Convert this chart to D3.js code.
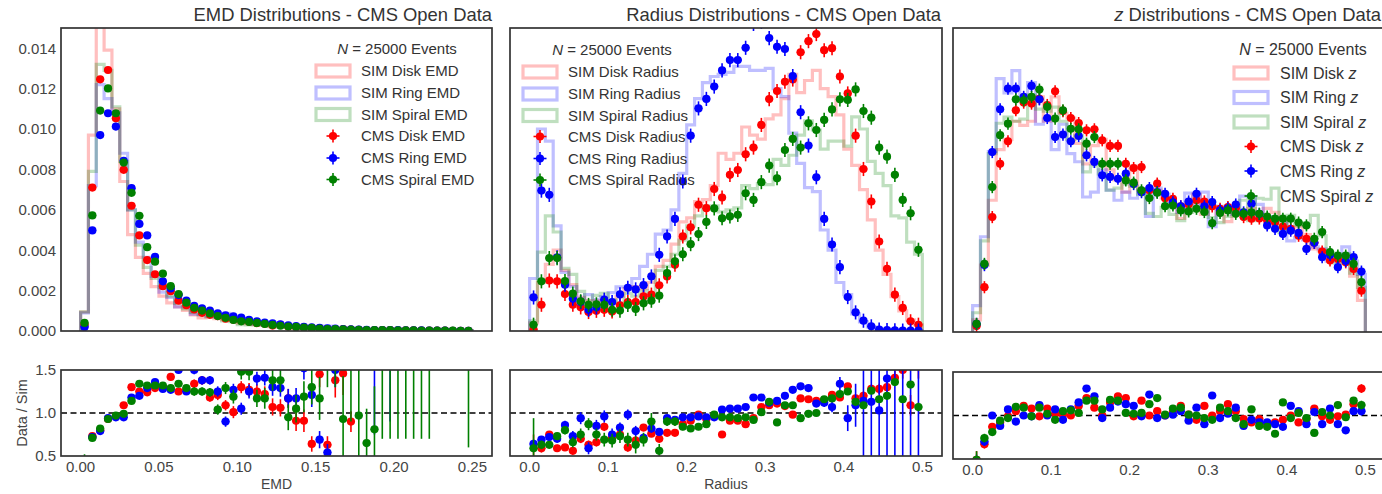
<!DOCTYPE html>
<html><head><meta charset="utf-8">
<script src="https://cdn.jsdelivr.net/npm/d3@7"></script>
<style>body{margin:0;background:#fff;} svg{display:block;}</style>
</head><body><svg id="c" width="1382" height="494"></svg>
<script>
// ---------------- DATA (all heights in units of 1e-3) ----------------
const nBins = 50;
const emdBinWidth = 0.005;
const radiusBinWidth = 0.01;
const zBinWidth = 0.01;
const emdTicks = [0, 0.05, 0.10, 0.15, 0.20, 0.25];
const rzTicks = [0, 0.1, 0.2, 0.3, 0.4, 0.5];
const topYTicks = [0, 2, 4, 6, 8, 10, 12, 14];   // x 1e-3
const ratioYTicks = [0.5, 1.0, 1.5];
const seriesNames = ['Disk', 'Ring', 'Spiral'];

// EMD
const simDiskEMD   = [0.94,9.7,15.6,13.9,11.0,7.4,4.77,3.64,2.85,2.2,1.73,1.39,1.19,1.02,0.80,0.65,0.68,0.61,0.56,0.55,0.39,0.36,0.31,0.30,0.25,0.29,0.19,0.22,0.2,0.22,0.09,0.16,0.07,0.06,0.08,0.05,0.045,0.04,0.035,0.03,0.03,0.025,0.02,0.02,0.015,0.015,0.01,0.01,0.01,0.01];
const simRingEMD   = [0.9,7.2,12.2,11.5,10.8,8.8,6.0,4.4,3.65,2.7,1.92,1.66,1.19,1.2,0.83,0.81,0.73,0.70,0.87,0.57,0.63,0.44,0.34,0.30,0.29,0.26,0.24,0.2,0.13,0.15,0.22,0.24,0.08,0.06,0.05,0.04,0.035,0.03,0.03,0.025,0.02,0.02,0.015,0.015,0.01,0.01,0.01,0.01,0.01,0.01];
const simSpiralEMD = [0.95,7.9,13.2,12.9,11.1,8.4,6.0,4.25,3.15,2.6,2.15,1.72,1.37,1.09,0.92,0.81,0.70,0.71,0.50,0.46,0.32,0.30,0.34,0.30,0.22,0.19,0.23,0.19,0.14,0.12,0.1,0.06,0.05,0.09,0.04,0.06,0.08,0.06,0.02,0.02,0.015,0.015,0.015,0.01,0.01,0.01,0.01,0.01,0.01,0.005];
const cmsDiskEMD   = [0.3,7.10,12.46,12.92,10.53,7.98,6.20,4.73,3.51,2.81,2.22,1.97,1.50,1.28,1.07,0.90,0.80,0.74,0.61,0.56,0.51,0.46,0.39,0.36,0.27,0.31,0.22,0.2,0.18,0.14,0.13,0.1,0.1,0.09,0.07,0.06,0.05,0.05,0.04,0.04,0.03,0.03,0.03,0.02,0.02,0.02,0.02,0.01,0.01,0.01];
const cmsRingEMD   = [0.2,4.98,9.70,10.78,10.12,8.42,7.07,5.3,4.73,3.67,2.46,2.11,1.78,1.50,1.25,1.12,1.01,0.87,0.78,0.72,0.66,0.55,0.48,0.42,0.38,0.33,0.28,0.24,0.2,0.18,0.15,0.13,0.12,0.1,0.08,0.07,0.06,0.05,0.05,0.04,0.04,0.03,0.03,0.03,0.02,0.02,0.02,0.01,0.01,0.01];
const cmsSpiralEMD = [0.4,5.72,10.91,12.01,10.78,8.34,6.84,5.70,4.15,3.43,2.84,2.22,1.83,1.40,1.15,1.01,0.87,0.74,0.65,0.55,0.48,0.45,0.40,0.35,0.30,0.26,0.22,0.20,0.17,0.15,0.12,0.10,0.09,0.08,0.07,0.06,0.05,0.05,0.04,0.04,0.03,0.03,0.03,0.02,0.02,0.02,0.02,0.02,0.01,0.01];
const ratioDiskEMD   = [0.35,0.73,0.80,0.93,0.96,1.09,1.30,1.25,1.24,1.29,1.29,1.42,1.25,1.27,1.34,1.38,1.18,1.21,1.09,1.01,1.30,1.27,1.25,1.22,1.07,1.06,1.17,0.91,0.91,0.64,1.45,0.63,1.38,1.46,0.90,null,null,null,null,null,null,null,null,null,null,null,null,null,null,null];
const ratioRingEMD   = [null,0.72,0.79,0.94,0.95,0.95,1.18,1.20,1.29,1.36,1.28,1.27,1.50,1.25,1.50,1.38,1.38,1.25,0.90,1.27,1.05,1.25,1.40,1.41,1.30,1.29,1.17,1.17,1.52,1.21,0.69,0.54,1.50,null,null,null,null,1.9,null,2.0,null,null,null,null,null,null,null,null,null,null];
const ratioSpiralEMD = [0.42,0.71,0.82,0.93,0.97,0.99,1.14,1.34,1.32,1.32,1.32,1.29,1.34,1.29,1.25,1.25,1.24,1.04,1.29,1.19,1.48,1.48,1.17,1.17,1.38,1.38,0.95,1.05,1.19,1.30,1.17,1.6,1.9,0.93,1.8,0.97,0.65,0.81,2.0,2.0,2.0,2.0,2.0,2.0,2.0,null,null,null,null,2.0];
const rerrDiskEMD   = [0.1,0.02,0.02,0.02,0.02,0.02,0.03,0.03,0.03,0.03,0.03,0.04,0.04,0.04,0.05,0.05,0.05,0.06,0.06,0.07,0.07,0.08,0.08,0.09,0.1,0.1,0.11,0.12,0.13,0.09,0.15,0.1,0.2,0.25,0.12,0,0,0,0,0,0,0,0,0,0,0,0,0,0,0];
const rerrRingEMD   = [0,0.02,0.02,0.02,0.02,0.02,0.03,0.03,0.03,0.03,0.03,0.04,0.04,0.04,0.05,0.05,0.05,0.06,0.06,0.07,0.07,0.08,0.08,0.09,0.1,0.1,0.11,0.12,0.13,0.14,0.1,0.1,0.2,0,0,0,0,1.15,0,1.1,0,0,0,0,0,0,0,0,0,0];
const rerrSpiralEMD = [0.1,0.02,0.02,0.02,0.02,0.02,0.03,0.03,0.03,0.03,0.03,0.04,0.04,0.04,0.05,0.05,0.05,0.06,0.07,0.08,0.09,0.1,0.1,0.12,0.12,0.14,0.15,0.16,0.18,0.2,0.25,0.3,0.6,0.5,0.9,0.8,0.4,0.5,1.3,1.3,1.3,1.3,1.3,1.3,1.3,0,0,0,0,1.4];
const dataErrEMD = 0.15;

// Radius
const simDiskR   = [0.4,2.4,3.3,4.0,3.0,2.3,1.67,1.5,1.5,1.25,1.37,1.7,2.1,2.2,2.1,2.4,3.2,3.5,4.3,5.4,5.6,6.4,6.5,7.2,8.8,8.5,8.8,10.1,9.7,9.5,10.5,10.7,11.5,12.7,11.8,12.4,12.9,12.0,11.6,10.7,9.0,8.2,7.0,5.5,4.0,2.8,1.7,1.0,0.55,0.3];
const simRingR   = [2.6,10.0,9.4,5.2,2.9,2.2,1.6,1.8,1.55,1.7,1.9,2.18,2.18,2.6,3.2,3.8,4.8,5.0,6.0,7.8,10.2,11.5,12.3,12.6,12.7,12.8,13.1,13.1,12.9,12.9,13.0,12.0,11.6,9.8,8.3,7.1,6.9,5.0,4.0,2.4,1.8,0.85,0.45,0.2,0.07,0.03,0.02,0.02,0.01,0.01];
const simSpiralR = [0.5,3.9,5.7,4.9,3.1,2.8,1.96,1.48,1.76,1.87,1.54,1.38,1.87,1.73,1.99,1.67,3.0,3.2,3.8,4.5,5.2,5.7,6.2,6.2,5.9,6.0,6.1,7.2,7.05,7.3,7.25,8.5,8.2,8.7,9.7,10.4,9.95,9.0,9.4,9.4,9.15,10.6,10.0,8.4,7.8,7.2,5.7,5.6,4.4,3.8];
const cmsDiskR   = [0.07,1.30,2.50,2.46,1.83,1.30,1.17,0.94,1.00,1.05,0.97,1.27,1.43,1.43,1.71,1.80,2.26,2.70,3.28,4.68,5.13,6.25,6.08,7.03,6.61,7.73,7.97,8.75,9.08,10.2,11.48,11.88,12.34,12.45,13.8,14.35,14.7,13.9,14.0,12.6,11.76,9.67,8.02,6.41,4.43,3.08,1.80,1.14,0.48,0.31];
const cmsRingR   = [1.66,6.95,6.74,3.65,2.29,1.60,1.43,1.05,1.17,1.55,1.43,1.81,2.14,2.06,2.27,2.70,3.77,4.68,5.55,7.40,9.67,11.02,11.49,12.1,12.9,13.41,13.41,14.02,15.2,15.3,14.5,14.07,13.96,12.62,10.83,9.18,7.61,5.55,4.28,3.16,1.68,0.92,0.51,0.23,0.07,0.04,0.03,0.02,0.02,0.02];
const cmsSpiralR = [0.31,2.46,3.61,3.61,2.47,1.85,1.47,1.29,1.32,1.29,1.05,1.01,1.29,1.09,1.37,1.50,1.75,2.87,3.45,3.8,4.3,4.8,5.4,6.07,5.58,5.67,5.75,6.82,6.49,7.37,8.19,7.56,8.96,9.51,9.08,10.28,9.95,10.45,10.97,11.47,11.44,11.96,10.89,10.56,9.08,8.63,7.73,6.49,5.83,4.02];
const ratioDiskR   = [0.45,0.59,0.75,0.59,0.60,0.56,0.70,0.63,0.66,0.84,0.71,0.75,0.60,0.68,0.83,0.76,0.70,0.77,0.77,0.87,0.91,0.98,0.93,0.97,0.75,0.91,0.91,0.87,0.94,1.07,1.09,1.11,1.08,0.98,1.17,1.16,1.14,1.15,1.21,1.18,1.31,1.17,1.20,1.28,1.28,1.30,1.41,1.5,1.09,1.55];
const ratioRingR   = [0.64,0.69,0.72,0.70,0.86,0.73,0.94,0.59,0.85,0.96,0.75,0.83,0.98,0.79,0.71,0.82,0.78,0.94,0.92,0.95,0.95,0.96,0.95,0.95,1.04,1.05,1.05,1.07,1.18,1.18,1.12,1.14,1.20,1.27,1.31,1.29,1.11,1.12,1.07,1.34,0.94,1.09,1.14,1.13,1.03,1.40,2.0,2.0,2.0,2.0];
const ratioSpiralR = [0.59,0.63,0.63,0.73,0.80,0.66,0.75,0.87,0.75,0.69,0.68,0.73,0.69,0.63,0.69,0.90,0.56,0.90,0.90,0.84,0.82,0.84,0.87,0.98,0.95,0.95,0.94,0.95,0.92,1.01,1.13,0.89,1.09,1.09,0.94,0.99,1.0,1.16,1.17,1.22,1.25,1.13,1.09,1.26,1.16,1.20,1.36,1.16,1.33,1.07];
const rerrDiskR   = [0.3,0.05,0.04,0.04,0.04,0.04,0.05,0.05,0.05,0.05,0.05,0.05,0.05,0.05,0.04,0.04,0.04,0.03,0.03,0.03,0.03,0.03,0.03,0.03,0.03,0.03,0.03,0.03,0.03,0.03,0.03,0.03,0.03,0.03,0.03,0.03,0.03,0.03,0.03,0.03,0.04,0.04,0.05,0.05,0.06,0.07,0.08,0.1,0.12,0.15];
const rerrRingR   = [0.05,0.03,0.03,0.04,0.05,0.06,0.07,0.07,0.07,0.07,0.07,0.06,0.06,0.06,0.05,0.05,0.04,0.04,0.03,0.03,0.03,0.03,0.03,0.03,0.03,0.03,0.03,0.03,0.03,0.03,0.03,0.03,0.03,0.03,0.04,0.04,0.04,0.05,0.06,0.08,0.15,0.25,0.7,1.0,1.2,1.3,1.5,1.5,1.5,1.5];
const rerrSpiralR = [0.35,0.05,0.04,0.04,0.05,0.06,0.07,0.07,0.07,0.08,0.08,0.08,0.08,0.1,0.08,0.1,0.08,0.05,0.05,0.04,0.04,0.04,0.04,0.03,0.03,0.03,0.03,0.03,0.03,0.03,0.03,0.03,0.03,0.03,0.03,0.03,0.03,0.03,0.03,0.03,0.03,0.03,0.03,0.03,0.03,0.03,0.03,0.04,0.04,0.05];
const dataErrR = 0.35;

// z
const simDiskZ   = [0.6,3.3,6.5,9.0,9.5,10.4,10.2,10.4,11.6,10.4,11.6,10.8,10.56,9.3,8.3,9.2,9.5,8.0,7.5,6.9,8.2,7.0,7.0,7.0,6.6,6.26,5.6,6.2,6.8,5.8,6.2,5.8,5.45,5.8,5.9,6.1,5.8,6.1,5.9,5.5,5.1,5.2,4.8,4.1,4.0,3.7,3.6,3.4,2.75,1.56];
const simRingZ   = [1.3,4.7,8.9,12.5,11.8,12.9,11.6,12.3,10.25,10.5,9.0,10.25,8.8,8.4,6.66,6.9,8.0,7.0,6.5,6.9,6.6,7.0,5.7,7.1,6.8,6.3,5.9,6.85,6.26,6.9,5.2,6.2,6.0,5.8,6.7,6.66,6.3,5.7,5.65,5.56,4.5,4.66,4.55,4.2,4.1,3.5,3.55,4.2,3.5,2.84];
const simSpiralZ = [0.95,4.5,8.8,10.3,10.6,10.4,10.5,11.7,11.0,10.9,11.1,10.4,9.5,9.7,7.9,8.2,7.8,7.0,7.1,7.3,7.2,6.8,5.85,5.7,6.15,5.8,5.5,5.9,6.1,6.1,5.65,5.4,5.7,6.0,6.5,5.5,6.6,6.55,7.1,4.9,5.75,5.25,5.4,5.75,4.75,3.9,3.4,3.85,2.9,2.2];
const cmsDiskZ   = [0.3,2.21,5.67,8.30,9.41,10.94,11.32,11.27,11.5,11.2,11.88,10.9,10.56,10.31,9.95,10.0,9.46,9.18,9.18,8.30,8.09,8.14,7.0,7.32,6.6,6.57,6.2,6.3,6.5,6.44,6.2,6.08,6.16,6.1,5.67,5.59,5.6,5.5,5.4,5.2,5.09,4.75,4.6,4.4,3.97,3.53,3.6,3.44,3.11,2.04];
const cmsRingZ   = [0.4,3.3,8.88,10.99,12.01,12.01,11.6,12.14,11.48,10.56,9.62,9.74,9.41,9.67,8.72,8.39,7.73,7.65,7.56,7.81,7.3,6.9,7.1,6.9,6.82,6.4,6.2,6.44,6.82,6.2,6.41,6.0,6.1,6.29,5.9,6.33,5.83,5.26,5.09,4.84,5.0,4.89,4.10,4.4,3.69,3.8,3.20,3.5,3.69,2.98];
const cmsSpiralZ = [0.40,3.36,7.15,9.71,10.28,11.48,11.43,11.6,11.96,11.11,10.53,10.94,10.03,10.0,9.29,9.62,8.30,8.30,8.30,7.48,7.37,6.99,6.61,6.87,6.21,6.24,6.0,5.95,6.08,5.92,5.37,5.87,6.0,5.83,5.83,5.9,5.83,5.70,5.59,5.59,5.59,5.4,5.26,4.6,4.93,3.94,3.77,3.77,3.36,2.46];
const ratioDiskZ   = [0.49,0.67,0.87,0.92,0.99,1.05,1.11,1.08,0.99,1.08,1.02,1.01,1.0,1.11,1.20,1.09,1.0,1.15,1.22,1.20,0.99,1.17,1.0,1.05,1.0,1.05,1.11,1.01,0.95,1.11,1.0,1.05,1.13,1.05,0.96,0.92,0.96,0.9,0.92,0.95,1.0,0.92,0.96,1.08,0.99,0.95,0.99,1.01,1.13,1.31];
const ratioRingZ   = [0.45,0.70,1.0,0.88,1.07,0.93,1.0,0.99,1.12,1.0,1.07,0.95,1.07,1.15,1.31,1.22,0.97,1.09,1.16,1.13,1.11,0.99,1.24,0.97,1.0,1.01,1.05,0.94,1.09,0.90,1.23,0.97,1.02,1.09,0.88,0.95,0.92,0.92,0.90,0.87,1.11,1.05,0.90,1.04,0.90,1.08,0.90,0.83,1.05,1.05];
const ratioSpiralZ = [0.49,0.74,0.81,0.94,0.97,1.10,1.09,0.99,1.09,1.02,0.95,1.05,1.06,1.03,1.17,1.17,1.07,1.18,1.17,1.03,1.02,1.03,1.13,1.20,1.01,1.08,1.09,1.01,1.0,0.97,0.95,1.09,1.05,0.97,0.90,1.07,0.88,0.87,0.79,1.15,0.97,1.03,0.97,0.80,1.04,1.0,1.12,0.98,1.17,1.12];
const rerrDiskZ   = [0.1,0.05,0.03,0.03,0.03,0.03,0.03,0.03,0.03,0.03,0.03,0.03,0.03,0.03,0.03,0.03,0.03,0.03,0.03,0.03,0.03,0.03,0.03,0.03,0.03,0.03,0.03,0.03,0.03,0.03,0.03,0.03,0.03,0.03,0.03,0.03,0.03,0.03,0.03,0.03,0.03,0.03,0.03,0.03,0.03,0.03,0.03,0.03,0.04,0.05];
const rerrRingZ   = rerrDiskZ;
const rerrSpiralZ = rerrDiskZ;
const dataErrZ = 0.3;

// ---------------- DRAWING ----------------
const FONT = '"Liberation Sans", Arial, Helvetica, sans-serif';
const colors = ['#ff0000', '#0000ff', '#008000'];
const TEXT = '#333';
const svg = d3.select('#c');
const defs = svg.append('defs');

const panels = [
  { id:'emd', title:[['','EMD Distributions - CMS Open Data']], titleRight:492, unit:'EMD', xlabel:'EMD',
    binW: emdBinWidth, xDomain:[-0.0125, 0.2625], left:61, right:492, topT:28, topB:331, ratT:370, ratB:456,
    xTicks: emdTicks, xFmt: d3.format('.2f'), showY:true, dataErr: dataErrEMD,
    sim:[simDiskEMD, simRingEMD, simSpiralEMD], cms:[cmsDiskEMD, cmsRingEMD, cmsSpiralEMD],
    ratio:[ratioDiskEMD, ratioRingEMD, ratioSpiralEMD], rerr:[rerrDiskEMD, rerrRingEMD, rerrSpiralEMD],
    leg:{titleX:397, titleY:54, patchX:316, labelX:361, rowY:[71,93,114.5,136,158,179.5], fs:15, italicUnit:false} },
  { id:'rad', title:[['','Radius Distributions - CMS Open Data']], titleRight:941, unit:'Radius', xlabel:'Radius',
    binW: radiusBinWidth, xDomain:[-0.025, 0.525], left:510, right:942, topT:28, topB:331, ratT:370, ratB:456,
    xTicks: rzTicks, xFmt: d3.format('.1f'), showY:false, dataErr: dataErrR,
    sim:[simDiskR, simRingR, simSpiralR], cms:[cmsDiskR, cmsRingR, cmsSpiralR],
    ratio:[ratioDiskR, ratioRingR, ratioSpiralR], rerr:[rerrDiskR, rerrRingR, rerrSpiralR],
    leg:{titleX:612, titleY:55, patchX:523, labelX:568, rowY:[72,94,115.5,136.5,158.5,180], fs:15, italicUnit:false} },
  { id:'z', title:[['i','z'],['',' Distributions - CMS Open Data']], titleRight:1381, unit:'z', xlabel:'',
    binW: zBinWidth, xDomain:[-0.025, 0.525], left:953, right:1385, topT:28, topB:332, ratT:372, ratB:459,
    xTicks: rzTicks, xFmt: d3.format('.1f'), showY:false, dataErr: dataErrZ,
    sim:[simDiskZ, simRingZ, simSpiralZ], cms:[cmsDiskZ, cmsRingZ, cmsSpiralZ],
    ratio:[ratioDiskZ, ratioRingZ, ratioSpiralZ], rerr:[rerrDiskZ, rerrRingZ, rerrSpiralZ],
    leg:{titleX:1303, titleY:55, patchX:1234, labelX:1280, rowY:[73,97.5,122,146.5,171,196], fs:16, italicUnit:true} }
];

function drawErrorPoints(g, xs, ys, pts, color, xerr) {
  const gg = g.append('g');
  gg.selectAll('line.v').data(pts).join('line').attr('class','v')
    .attr('x1', d => xs(d.c)).attr('x2', d => xs(d.c))
    .attr('y1', d => ys(d.v - d.e)).attr('y2', d => ys(d.v + d.e))
    .attr('stroke', color).attr('stroke-width', 1.6);
  gg.selectAll('line.h').data(pts).join('line').attr('class','h')
    .attr('x1', d => xs(d.c - xerr)).attr('x2', d => xs(d.c + xerr))
    .attr('y1', d => ys(d.v)).attr('y2', d => ys(d.v))
    .attr('stroke', color).attr('stroke-width', 1.6);
  gg.selectAll('circle').data(pts).join('circle')
    .attr('cx', d => xs(d.c)).attr('cy', d => ys(d.v)).attr('r', 4.1)
    .attr('fill', color);
}

panels.forEach((p, pi) => {
  const x = d3.scaleLinear().domain(p.xDomain).range([p.left, p.right]);
  const y = d3.scaleLinear().domain([0, 15]).range([p.topB, p.topT]);
  const yr = d3.scaleLinear().domain([0.5, 1.5]).range([p.ratB, p.ratT]);
  const edges = d3.range(nBins + 1).map(i => i * p.binW);
  const centers = d3.range(nBins).map(i => (i + 0.5) * p.binW);

  defs.append('clipPath').attr('id', 'ct' + pi).append('rect')
    .attr('x', p.left).attr('y', p.topT).attr('width', p.right - p.left).attr('height', p.topB - p.topT);
  defs.append('clipPath').attr('id', 'cr' + pi).append('rect')
    .attr('x', p.left).attr('y', p.ratT).attr('width', p.right - p.left).attr('height', p.ratB - p.ratT);

  // ---- top panel ----
  const gTop = svg.append('g').attr('clip-path', `url(#ct${pi})`);
  const line = d3.line().x(d => x(d[0])).y(d => y(d[1]));
  p.sim.forEach((vals, s) => {
    const pts = [[edges[0], 0]];
    vals.forEach((v, i) => { pts.push([edges[i], v]); pts.push([edges[i + 1], v]); });
    pts.push([edges[nBins], 0]);
    gTop.append('path').attr('d', line(pts)).attr('fill', 'none')
      .attr('stroke', colors[s]).attr('stroke-opacity', 0.25).attr('stroke-width', 3.2)
      .attr('stroke-linejoin', 'miter');
  });
  p.cms.forEach((vals, s) => {
    const pts = vals.map((v, i) => ({c: centers[i], v: v, e: p.dataErr})).filter(d => d.v != null);
    drawErrorPoints(gTop, x, y, pts, colors[s], p.binW / 2);
  });
  svg.append('rect').attr('x', p.left).attr('y', p.topT).attr('width', p.right - p.left).attr('height', p.topB - p.topT)
    .attr('fill', 'none').attr('stroke', '#333').attr('stroke-width', 1.7);

  // title (right aligned)
  const tt = svg.append('text').attr('x', p.titleRight).attr('y', 21).attr('text-anchor', 'end')
    .attr('font-family', FONT).attr('font-size', 18.4).attr('fill', TEXT);
  p.title.forEach(([st, t]) => tt.append('tspan').attr('font-style', st === 'i' ? 'italic' : null).text(t));

  // y ticks (only first panel)
  if (p.showY) {
    svg.append('g').selectAll('text').data(topYTicks).join('text')
      .attr('x', p.left - 5).attr('y', d => y(d)).attr('dy', '0.36em').attr('text-anchor', 'end')
      .attr('font-family', FONT).attr('font-size', 15).attr('fill', '#444')
      .text(d => d3.format('.3f')(d / 1000));
    svg.append('g').selectAll('text').data(ratioYTicks).join('text')
      .attr('x', p.left - 5).attr('y', d => yr(d)).attr('dy', '0.36em').attr('text-anchor', 'end')
      .attr('font-family', FONT).attr('font-size', 15).attr('fill', '#444')
      .text(d => d3.format('.1f')(d));
    svg.append('text').attr('transform', `translate(27,${(p.ratT + p.ratB) / 2}) rotate(-90)`)
      .attr('text-anchor', 'middle').attr('font-family', FONT).attr('font-size', 14.5).attr('fill', '#444')
      .text('Data / Sim');
  }

  // legend
  const L = p.leg;
  const lt = svg.append('text').attr('x', L.titleX).attr('y', L.titleY).attr('text-anchor', 'middle')
    .attr('font-family', FONT).attr('font-size', L.fs).attr('fill', TEXT);
  lt.append('tspan').attr('font-style', 'italic').text('N');
  lt.append('tspan').text(' = 25000 Events');
  const entries = [];
  seriesNames.forEach((n, s) => entries.push({kind:'sim', s, prefix:'SIM ' + n + ' '}));
  seriesNames.forEach((n, s) => entries.push({kind:'cms', s, prefix:'CMS ' + n + ' '}));
  entries.forEach((e, r) => {
    const cy = L.rowY[r];
    if (e.kind === 'sim') {
      svg.append('rect').attr('x', L.patchX).attr('y', cy - 6).attr('width', 34).attr('height', 12)
        .attr('fill', 'none').attr('stroke', colors[e.s]).attr('stroke-opacity', 0.25).attr('stroke-width', 3.2);
    } else {
      const cx = L.patchX + 17;
      svg.append('line').attr('x1', cx - 6.5).attr('x2', cx + 6.5).attr('y1', cy).attr('y2', cy)
        .attr('stroke', colors[e.s]).attr('stroke-width', 1.6);
      svg.append('line').attr('x1', cx).attr('x2', cx).attr('y1', cy - 6.5).attr('y2', cy + 6.5)
        .attr('stroke', colors[e.s]).attr('stroke-width', 1.6);
      svg.append('circle').attr('cx', cx).attr('cy', cy).attr('r', 4.1).attr('fill', colors[e.s]);
    }
    const t = svg.append('text').attr('x', L.labelX).attr('y', cy).attr('dy', '0.36em')
      .attr('font-family', FONT).attr('font-size', L.fs).attr('fill', TEXT);
    t.append('tspan').text(e.prefix);
    t.append('tspan').attr('font-style', L.italicUnit ? 'italic' : null).text(p.unit);
  });

  // ---- ratio panel ----
  const gR = svg.append('g').attr('clip-path', `url(#cr${pi})`);
  gR.append('line').attr('x1', p.left).attr('x2', p.right).attr('y1', yr(1)).attr('y2', yr(1))
    .attr('stroke', '#000').attr('stroke-width', 1.6).attr('stroke-dasharray', '6,3.5');
  p.ratio.forEach((vals, s) => {
    const pts = vals.map((v, i) => ({c: centers[i], v: v, e: p.rerr[s][i]})).filter(d => d.v != null);
    drawErrorPoints(gR, x, yr, pts, colors[s], p.binW / 2);
  });
  svg.append('rect').attr('x', p.left).attr('y', p.ratT).attr('width', p.right - p.left).attr('height', p.ratB - p.ratT)
    .attr('fill', 'none').attr('stroke', '#333').attr('stroke-width', 1.7);

  // x tick labels
  svg.append('g').selectAll('text').data(p.xTicks).join('text')
    .attr('x', d => x(d)).attr('y', p.ratB + 16).attr('text-anchor', 'middle')
    .attr('font-family', FONT).attr('font-size', 15).attr('fill', '#444')
    .text(d => p.xFmt(d));
  if (p.xlabel) {
    svg.append('text').attr('x', (p.left + p.right) / 2).attr('y', 489)
      .attr('text-anchor', 'middle').attr('font-family', FONT).attr('font-size', 14).attr('fill', '#444')
      .text(p.xlabel);
  }
});
</script>
</body></html>
